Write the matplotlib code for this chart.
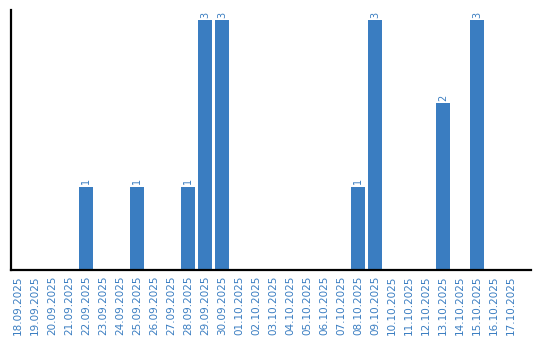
import matplotlib
matplotlib.use("Agg")
import matplotlib.pyplot as plt

dates = ["18.09.2025", "19.09.2025", "20.09.2025", "21.09.2025", "22.09.2025",
         "23.09.2025", "24.09.2025", "25.09.2025", "26.09.2025", "27.09.2025",
         "28.09.2025", "29.09.2025", "30.09.2025", "01.10.2025", "02.10.2025",
         "03.10.2025", "04.10.2025", "05.10.2025", "06.10.2025", "07.10.2025",
         "08.10.2025", "09.10.2025", "10.10.2025", "11.10.2025", "12.10.2025",
         "13.10.2025", "14.10.2025", "15.10.2025", "16.10.2025", "17.10.2025"]
counts = [0, 0, 0, 0, 1, 0, 0, 1, 0, 0, 1, 3, 3, 0, 0,
          0, 0, 0, 0, 0, 1, 3, 0, 0, 0, 2, 0, 3, 0, 0]

BLUE = "#3a7dc1"

fig = plt.figure(figsize=(5.4, 3.4), dpi=100)
ax = fig.add_axes([11 / 540, 1 - 270 / 340, 520 / 540, 260 / 340])
x = list(range(len(dates)))
ax.bar(x, counts, width=0.82, color=BLUE)
for i, v in zip(x, counts):
    if v > 0:
        ax.text(i, v + 0.03, str(v), rotation=90, ha="center", va="bottom",
                fontsize=7, color=BLUE)

ax.set_xlim(-0.41, 30.18)
ax.set_ylim(0, 3.12)
ax.set_xticks(x)
ax.set_xticklabels(dates, rotation=90, fontsize=7.5, color=BLUE)
ax.tick_params(axis="x", length=0, pad=4)
ax.set_yticks([])
for s in ("top", "right"):
    ax.spines[s].set_visible(False)
for s in ("left", "bottom"):
    ax.spines[s].set_linewidth(1.6)

fig.savefig("out.png", dpi=100)
